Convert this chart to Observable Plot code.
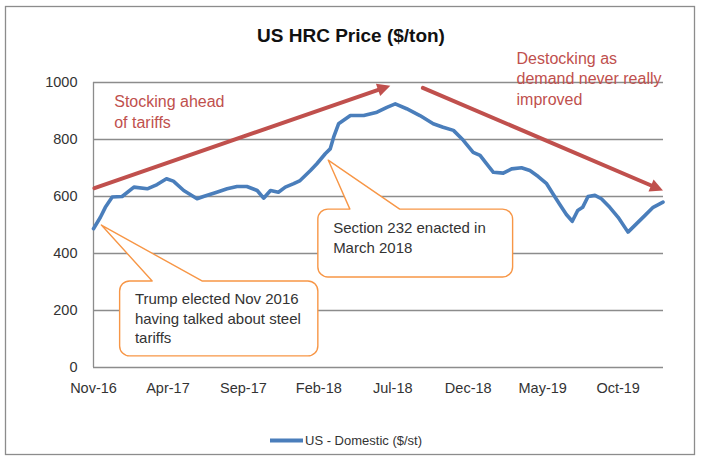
<!DOCTYPE html>
<html><head><meta charset="utf-8">
<script src="https://cdn.jsdelivr.net/npm/d3@7"></script>
<script src="https://cdn.jsdelivr.net/npm/@observablehq/plot@0.6"></script>
<style>html,body{margin:0;padding:0;background:#fff;} svg{display:block}</style>
</head><body><div id="chart"></div>
<script>
// ---- data ----
const dates = ["2016-11-01","2016-11-15","2016-11-25","2016-12-09","2016-12-29","2017-01-22","2017-02-18","2017-03-10","2017-03-29","2017-04-12","2017-05-03","2017-05-30","2017-06-12","2017-07-09","2017-07-30","2017-08-19","2017-09-08","2017-09-29","2017-10-12","2017-10-26","2017-11-11","2017-11-25","2017-12-12","2017-12-25","2018-01-15","2018-01-28","2018-02-14","2018-02-24","2018-03-03","2018-03-13","2018-04-06","2018-05-03","2018-05-30","2018-06-19","2018-07-06","2018-07-29","2018-08-25","2018-09-21","2018-10-11","2018-11-01","2018-11-21","2018-12-11","2018-12-25","2019-01-07","2019-01-21","2019-02-10","2019-02-27","2019-03-19","2019-04-05","2019-04-22","2019-05-09","2019-05-22","2019-06-04","2019-06-18","2019-06-30","2019-07-11","2019-07-21","2019-08-01","2019-08-15","2019-08-28","2019-09-14","2019-10-01","2019-10-21","2019-11-07","2019-11-24","2019-12-11","2019-12-31"];
const prices = [487,527,562,598,600,633,627,642,662,654,621,592,600,615,627,635,635,621,594,621,615,633,645,656,691,715,750,767,808,855,884,884,896,913,925,908,884,855,843,832,797,755,744,715,685,682,697,701,691,670,645,609,574,537,513,551,562,600,604,592,562,527,475,504,533,562,580];
const seriesName = "US - Domestic ($/st)";
const title = "US HRC Price ($/ton)";
const xDomain = ["2016-11-01","2020-01-01"];
const xTicks = ["2016-11-01","2017-04-01","2017-09-01","2018-02-01","2018-07-01","2018-12-01","2019-05-01","2019-10-01"];
const xTickLabels = ["Nov-16","Apr-17","Sep-17","Feb-18","Jul-18","Dec-18","May-19","Oct-19"];
const yTicks = [0,200,400,600,800,1000];

// red trend arrows (data space)
const arrowFromX = ["2016-11-03","2018-08-31"];
const arrowFromY = [629,981];
const arrowToX = ["2018-06-26","2019-12-31"];
const arrowToY = [989,621];
// red notes
const noteText = ["Stocking ahead\nof tariffs","Destocking as\ndemand never really\nimproved"];
const noteX = ["2016-12-13","2019-03-09"];
const noteY = [966,1118];
// callouts
const calloutText = ["Trump elected Nov 2016\nhaving talked about steel\ntariffs","Section 232 enacted in\nMarch 2018"];
const calloutX0 = ["2016-12-25","2018-01-31"];
const calloutX1 = ["2018-01-31","2019-03-02"];
const calloutYTop = [302,554];
const calloutYBottom = [39,316];
const calloutTipX = ["2016-11-18","2018-02-21"];
const calloutTipY = [498,726];
const calloutBase0 = ["2017-03-01","2018-04-06"];
const calloutBase1 = ["2017-06-10","2018-07-16"];
const calloutTextX = ["2017-01-25","2018-03-03"];
const calloutTextY = [257,507];

// ---- styles ----
const FONT = "'Liberation Sans', Arial, sans-serif";
const BLUE = "#4A7EBB";
const RED = "#C0504D";
const ORANGE = "#F79646";
const GRID = "#8C8C8C";
const TXT = "#333333";

const P = (s) => new Date(s);
const series = dates.map((d, i) => ({date: P(d), price: prices[i]}));
const notes = noteText.map((t, i) => ({t, x: P(noteX[i]), y: noteY[i]}));

function options(extraMarks) {
  return {
    width: 702, height: 471,
    marginLeft: 93, marginRight: 39, marginTop: 82, marginBottom: 104,
    style: {fontFamily: FONT, fontSize: "14.5px", color: TXT, background: "white"},
    x: {type: "utc", domain: xDomain.map(P)},
    y: {domain: [0, 1000]},
    marks: [
      Plot.gridY(yTicks, {stroke: GRID, strokeOpacity: 1, strokeWidth: 1.3}),
      Plot.ruleX([P(xDomain[0])], {y1: 0, y2: 1000, stroke: GRID, strokeWidth: 1.3}),
      Plot.axisX(xTicks.map(P), {tickSize: 0, tickPadding: 15, label: null, fill: TXT,
        tickFormat: (d) => xTickLabels[xTicks.findIndex(t => +P(t) === +d)]}),
      Plot.axisY(yTicks, {tickSize: 0, tickPadding: 16, label: null, fill: TXT, tickFormat: (d) => String(d)}),
      Plot.line(series, {x: "date", y: "price", stroke: BLUE, strokeWidth: 3.6, strokeLinejoin: "round", strokeLinecap: "round"}),
      Plot.text(notes, {x: "x", y: "y", text: "t", textAnchor: "start", lineAnchor: "top", lineHeight: 1.3, fontSize: 16, fill: RED}),
      ...extraMarks
    ]
  };
}

// first pass to obtain the scales
const probe = Plot.plot(options([]));
const sx = probe.scale("x"), sy = probe.scale("y");
const arrows = arrowFromX.map((d, i) => {
  const dx = sx.apply(P(arrowToX[i])) - sx.apply(P(d));
  const dy = sy.apply(arrowToY[i]) - sy.apply(arrowFromY[i]);
  return {x1: P(d), y1: arrowFromY[i], x2: P(arrowToX[i]), y2: arrowToY[i],
          angle: Math.atan2(dx, -dy) * 180 / Math.PI};
});

const chart = Plot.plot(options([
  Plot.arrow(arrows, {x1: "x1", y1: "y1", x2: "x2", y2: "y2", stroke: RED, strokeWidth: 4, headLength: 0, insetEnd: 9}),
  Plot.vector(arrows, {x: "x2", y: "y2", rotate: "angle", length: 13, r: 6.5, shape: "spike", anchor: "end", fill: RED, stroke: "none"})
]));
document.getElementById("chart").appendChild(chart);

const X = (d) => chart.scale("x").apply(P(d));
const Y = (v) => chart.scale("y").apply(v);
const svg = d3.select(chart);

// callouts
calloutText.forEach((t, i) => {
  const x0 = X(calloutX0[i]), x1 = X(calloutX1[i]);
  const y0 = Y(calloutYTop[i]), y1 = Y(calloutYBottom[i]);
  const tx = X(calloutTipX[i]), ty = Y(calloutTipY[i]);
  const b0 = X(calloutBase0[i]), b1 = X(calloutBase1[i]);
  const r = 10;
  const path = `M${x0 + r},${y0}L${b0},${y0}L${tx},${ty}L${b1},${y0}L${x1 - r},${y0}` +
    `A${r},${r} 0 0 1 ${x1},${y0 + r}L${x1},${y1 - r}A${r},${r} 0 0 1 ${x1 - r},${y1}` +
    `L${x0 + r},${y1}A${r},${r} 0 0 1 ${x0},${y1 - r}L${x0},${y0 + r}A${r},${r} 0 0 1 ${x0 + r},${y0}Z`;
  svg.append("path").attr("d", path).attr("fill", "white").attr("stroke", ORANGE)
    .attr("stroke-width", 1.4).attr("stroke-linejoin", "round");
  const text = svg.append("text").attr("font-family", FONT).attr("font-size", 15).attr("fill", TXT)
    .attr("text-anchor", "start")
    .attr("x", X(calloutTextX[i])).attr("y", Y(calloutTextY[i]));
  t.split("\n").forEach((line, j) => {
    text.append("tspan").attr("x", X(calloutTextX[i])).attr("dy", j === 0 ? "0.71em" : "1.3em").text(line);
  });
});

// title
svg.append("text").attr("x", 351).attr("y", 42).attr("text-anchor", "middle")
  .attr("font-family", FONT).attr("font-size", 19).attr("font-weight", "bold").attr("fill", "#111").text(title);

// legend
svg.append("line").attr("x1", 270).attr("x2", 303).attr("y1", 440.5).attr("y2", 440.5)
  .attr("stroke", BLUE).attr("stroke-width", 4);
svg.append("text").attr("x", 305).attr("y", 440.5).attr("dy", "0.35em").attr("text-anchor", "start")
  .attr("font-family", FONT).attr("font-size", 13).attr("fill", TXT).text(seriesName);

// outer frame
svg.append("rect").attr("x", 5.5).attr("y", 6.5).attr("width", 689).attr("height", 448)
  .attr("fill", "none").attr("stroke", "#8C8C8C").attr("stroke-width", 1.3);
</script>
</body></html>
